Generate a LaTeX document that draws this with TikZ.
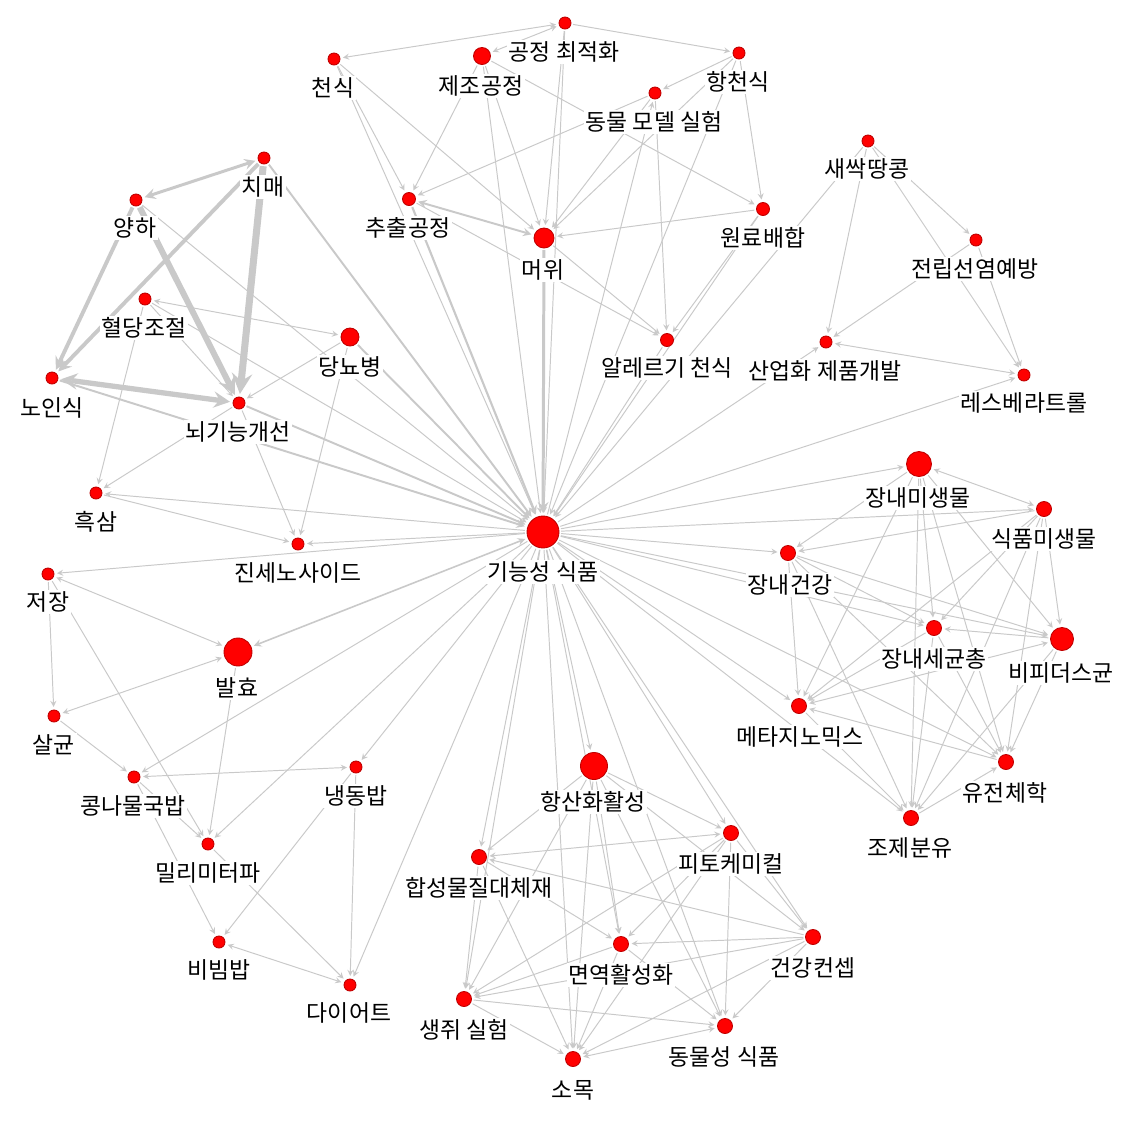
\documentclass[tikz,border=0pt]{standalone}
\usepackage{fontspec}
\newfontfamily\krfont{Noto Sans CJK KR}
\usetikzlibrary{backgrounds}

\begin{document}
\begin{tikzpicture}[x=0.02cm, y=-0.02cm, font=\krfont\fontsize{13}{15}\selectfont,
			line cap=round, >=stealth,
			dot/.style={circle, fill=red, draw=red!75!black, line width=0.5pt, inner sep=0pt},
			lbl/.style={fill=white, inner sep=1pt},
			ln/.style={draw=gray!42, line width=0.55pt, ->, shorten >=1.5pt, shorten <=1pt},
			bi/.style={ln, <->, shorten <=1.5pt}]
			\useasboundingbox (0,0) rectangle (1147,1127);
			% dots and their labels
			\foreach \n/\x/\y/\s/\lx/\ly/\t in {
				gongjeong/565/23/0.24/564/52/공정 최적화,
				jejo/482/56/0.34/481/86/제조공정,
				cheonsik/334/59/0.24/333/88/천식,
				hangcheon/739/53/0.24/738/82/항천식,
				dongmul/655/93/0.24/654/122/동물 모델 실험,
				chuchul/409/199/0.26/408/228/추출공정,
				meowi/544/238/0.40/543/270/머위,
				wollyo/763/209/0.26/763/238/원료배합,
				ssak/868/141/0.24/867/169/새싹땅콩,
				jeonrip/976/240/0.24/975/269/전립선염예방,
				allergy/667/340/0.26/667/368/알레르기 천식,
				saneop/826/342/0.24/825/371/산업화 제품개발,
				resv/1024/375/0.24/1024/403/레스베라트롤,
				chimae/264/158/0.24/263/187/치매,
				yangha/136/200/0.24/135/228/양하,
				hyeoldang/145/299/0.24/144/328/혈당조절,
				dangnyo/350/337/0.36/350/367/당뇨병,
				noin/52/378/0.24/52/408/노인식,
				noe/239/403/0.24/238/432/뇌기능개선,
				heuksam/96/493/0.24/96/522/흑삼,
				ginseno/298/544/0.24/298/573/진세노사이드,
				hub/543/532/0.64/543/572/기능성 식품,
				jeojang/48/574/0.24/48/602/저장,
				balhyo/238/652/0.56/237/688/발효,
				salgyun/54/716/0.24/54/745/살균,
				kong/134/777/0.24/133/806/콩나물국밥,
				naengdong/356/767/0.24/356/796/냉동밥,
				milli/208/844/0.24/208/873/밀리미터파,
				bibim/219/942/0.24/219/970/비빔밥,
				diet/350/985/0.24/349/1013/다이어트,
				hangsan/594/766/0.54/593/802/항산화활성,
				hapseong/479/857/0.30/479/888/합성물질대체재,
				phyto/731/833/0.30/731/864/피토케미컬,
				myeonyeok/621/944/0.30/621/975/면역활성화,
				geongang/813/937/0.30/813/968/건강컨셉,
				saengjwi/464/999/0.30/464/1030/생쥐 실험,
				somok/573/1059/0.30/573/1090/소목,
				dongsik/725/1026/0.30/724/1057/동물성 식품,
				jangmi/919/464/0.50/918/498/장내미생물,
				sikmi/1044/509/0.30/1044/539/식품미생물,
				janggeon/788/553/0.30/790/585/장내건강,
				jangse/934/628/0.30/934/659/장내세균총,
				bifido/1062/639/0.46/1061/673/비피더스균,
				meta/799/706/0.30/800/737/메타지노믹스,
				yujeon/1006/762/0.30/1005/793/유전체학,
				jojae/911/818/0.30/910/848/조제분유}
			{
				\node[dot, minimum size=\s cm] (\n) at (\x,\y) {};
				\node[lbl] (\n-l) at (\lx,\ly) {\t};
			}
			\begin{scope}[on background layer]
				\fill[white] (0,0) rectangle (1147,1127);
				% one-way links
				\foreach \a/\b in {gongjeong/hangcheon, gongjeong/meowi, gongjeong/hub,
					jejo/chuchul, jejo/meowi, jejo/hub, jejo/wollyo,
					cheonsik/chuchul, cheonsik/meowi, cheonsik/hub,
					dongmul/chuchul, dongmul/meowi, dongmul/allergy, hub/dongmul,
					hangcheon/meowi, hangcheon/hub, hangcheon/wollyo, hangcheon/dongmul,
					wollyo/meowi, chuchul/allergy, meowi/allergy, wollyo/allergy,
					wollyo/hub, allergy/hub, ssak/hub, ssak/saneop, ssak/jeonrip,
					ssak/resv, jeonrip/saneop, jeonrip/resv, hub/resv, hub/saneop,
					yangha/hub, hyeoldang/heuksam, hyeoldang/noe, hyeoldang/hub,
					dangnyo/noe, dangnyo/ginseno, noe/heuksam, noe/ginseno,
					hub/heuksam, heuksam/ginseno, hub/ginseno, hub/jeojang,
					jeojang/salgyun, jeojang/milli, balhyo/milli, salgyun/kong,
					hub/kong, kong/milli, kong/bibim, milli/diet, naengdong/bibim,
					naengdong/diet, hub/naengdong, hub/milli, hub/diet,
					hub/hapseong, hub/hangsan, hub/somok, hub/myeonyeok, hub/phyto,
					hub/dongsik, hub/geongang, hub/saengjwi,
					hangsan/hapseong, hangsan/phyto, hangsan/myeonyeok,
					hangsan/saengjwi, hangsan/somok, hangsan/dongsik, hangsan/geongang,
					hapseong/saengjwi, hapseong/myeonyeok, hapseong/somok,
					geongang/hapseong, phyto/myeonyeok, phyto/saengjwi, phyto/geongang,
					phyto/dongsik, phyto/somok, geongang/myeonyeok, geongang/saengjwi,
					geongang/dongsik, geongang/somok, myeonyeok/saengjwi,
					myeonyeok/somok, myeonyeok/dongsik, saengjwi/somok,
					saengjwi/dongsik,
					hub/jangmi, hub/sikmi, hub/janggeon, hub/meta, hub/jangse,
					hub/bifido, hub/yujeon, hub/jojae,
					jangmi/janggeon, sikmi/janggeon, jangmi/meta, jangmi/jangse,
					jangmi/bifido, jangmi/yujeon, jangmi/jojae, sikmi/bifido,
					sikmi/jangse, sikmi/meta, sikmi/yujeon, sikmi/jojae,
					janggeon/jangse, janggeon/bifido, janggeon/meta, janggeon/jojae,
					janggeon/yujeon, bifido/jangse, jangse/meta, jangse/jojae,
					jangse/yujeon, bifido/yujeon, bifido/jojae, meta/jojae,
					yujeon/meta, jojae/yujeon}
				\draw[ln] (\a) -- (\b);
				% two-way links
				\foreach \a/\b in {cheonsik/gongjeong, jejo/gongjeong, saneop/resv,
					hyeoldang/dangnyo, jeojang/balhyo, balhyo/salgyun, kong/naengdong,
					bibim/diet, hapseong/phyto, somok/dongsik, jangmi/sikmi, meta/bifido}
				\draw[bi] (\a) -- (\b);
				% heavier links
				\draw[bi, line width=1.1pt] (meowi) -- (chuchul);
				\draw[ln, line width=1.7pt] (meowi) -- (hub);
				\draw[ln, line width=1.2pt] (chuchul) -- (hub);
				\draw[ln, line width=1.1pt] (chimae) -- (hub);
				\draw[ln, line width=1.1pt] (dangnyo) -- (hub);
				\draw[ln, line width=1.1pt] (noin) -- (hub);
				\draw[ln, line width=1.1pt] (noe) -- (hub);
				\draw[bi, line width=0.9pt] (hub) -- (balhyo);
				\draw[bi, line width=1.7pt] (yangha) -- (chimae);
				\draw[ln, line width=2.2pt] (yangha) -- (noin);
				\draw[ln, line width=2.2pt] (chimae) -- (noin);
				\draw[ln, line width=4pt] (chimae) -- (noe);
				\draw[ln, line width=3.4pt] (yangha) -- (noe);
				\draw[bi, line width=3pt] (noin) -- (noe);
			\end{scope}
		\end{tikzpicture}
\end{document}
